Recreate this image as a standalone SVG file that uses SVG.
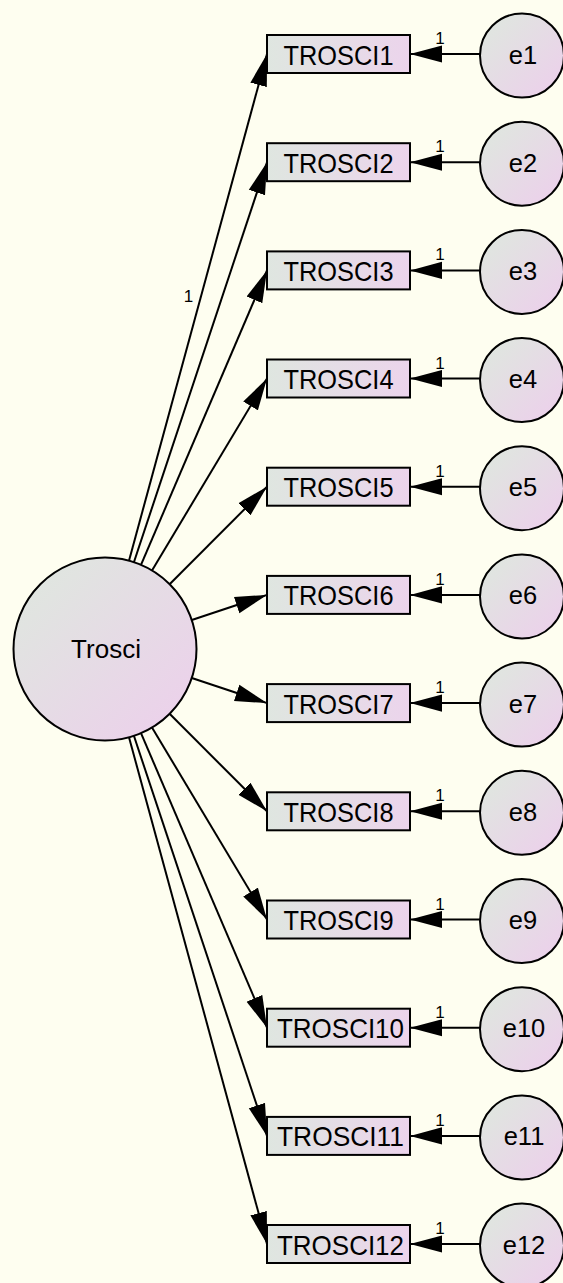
<svg xmlns="http://www.w3.org/2000/svg" width="563" height="1283" viewBox="0 0 563 1283">
<defs>
<linearGradient id="gBox" x1="0" y1="0" x2="1" y2="0">
<stop offset="0" stop-color="#dfe6e0"/>
<stop offset="1" stop-color="#ecd4ec"/>
</linearGradient>
<linearGradient id="gCirc" x1="0.15" y1="0.15" x2="0.85" y2="0.85">
<stop offset="0" stop-color="#e0e5e0"/>
<stop offset="1" stop-color="#ebd2ea"/>
</linearGradient>
<marker id="arr" markerUnits="userSpaceOnUse" markerWidth="32" markerHeight="18" viewBox="0 0 30 16" refX="30" refY="8" orient="auto">
<path d="M0,0 L30,8 L0,16 Z" fill="#000"/>
</marker>
<style>
.bg{fill:#fefef0}
.box{fill:url(#gBox);stroke:#000;stroke-width:2}
.circ{fill:url(#gCirc);stroke:#000;stroke-width:2}
.lbl{font-family:"Liberation Sans",Arial,sans-serif;fill:#000;text-anchor:middle}
.bt{font-size:28px}
.ct{font-size:25.5px}
.one{font-size:17px}
.path{stroke:#000;stroke-width:2;fill:none;marker-end:url(#arr)}
</style>
</defs>
<rect class="bg" x="0" y="0" width="563" height="1283"/>
<g id="connectors">
<line class="path" x1="129.0" y1="560.7" x2="267" y2="54"/>
<line class="path" x1="133.9" y1="562.2" x2="267" y2="162.2"/>
<line class="path" x1="141.0" y1="564.9" x2="267" y2="270.4"/>
<line class="path" x1="152.0" y1="570.5" x2="267" y2="378.5"/>
<line class="path" x1="169.6" y1="584.2" x2="267" y2="486.7"/>
<line class="path" x1="191.8" y1="620.0" x2="267" y2="594.9"/>
<line class="path" x1="191.8" y1="678.0" x2="267" y2="703.1"/>
<line class="path" x1="169.6" y1="713.8" x2="267" y2="811.3"/>
<line class="path" x1="152.0" y1="727.5" x2="267" y2="919.5"/>
<line class="path" x1="141.0" y1="733.1" x2="267" y2="1027.7"/>
<line class="path" x1="133.9" y1="735.8" x2="267" y2="1135.9"/>
<line class="path" x1="129.0" y1="737.3" x2="267" y2="1244"/>
<text class="lbl one" x="188.5" y="302">1</text>
<line class="path" x1="480" y1="54" x2="410" y2="54"/>
<line class="path" x1="480" y1="162.2" x2="410" y2="162.2"/>
<line class="path" x1="480" y1="270.4" x2="410" y2="270.4"/>
<line class="path" x1="480" y1="378.5" x2="410" y2="378.5"/>
<line class="path" x1="480" y1="486.7" x2="410" y2="486.7"/>
<line class="path" x1="480" y1="594.9" x2="410" y2="594.9"/>
<line class="path" x1="480" y1="703.1" x2="410" y2="703.1"/>
<line class="path" x1="480" y1="811.3" x2="410" y2="811.3"/>
<line class="path" x1="480" y1="919.5" x2="410" y2="919.5"/>
<line class="path" x1="480" y1="1027.7" x2="410" y2="1027.7"/>
<line class="path" x1="480" y1="1135.9" x2="410" y2="1135.9"/>
<line class="path" x1="480" y1="1244" x2="410" y2="1244"/>
<text class="lbl one" x="440" y="44">1</text>
<text class="lbl one" x="440" y="152.2">1</text>
<text class="lbl one" x="440" y="260.4">1</text>
<text class="lbl one" x="440" y="368.5">1</text>
<text class="lbl one" x="440" y="476.7">1</text>
<text class="lbl one" x="440" y="584.9">1</text>
<text class="lbl one" x="440" y="693.1">1</text>
<text class="lbl one" x="440" y="801.3">1</text>
<text class="lbl one" x="440" y="909.5">1</text>
<text class="lbl one" x="440" y="1017.7">1</text>
<text class="lbl one" x="440" y="1125.9">1</text>
<text class="lbl one" x="440" y="1234">1</text>
</g>
<g id="Trosci">
<circle class="circ" cx="105" cy="649" r="91.5"/>
<text class="lbl" style="font-size:26px" x="106" y="658">Trosci</text>
</g>
<g id="TROSCI1"><rect class="box" x="267" y="35" width="143" height="38"/><text class="lbl bt" x="338.5" y="64.5" textLength="110" lengthAdjust="spacingAndGlyphs">TROSCI1</text></g>
<g id="TROSCI2"><rect class="box" x="267" y="143.2" width="143" height="38"/><text class="lbl bt" x="338.5" y="172.7" textLength="110" lengthAdjust="spacingAndGlyphs">TROSCI2</text></g>
<g id="TROSCI3"><rect class="box" x="267" y="251.4" width="143" height="38"/><text class="lbl bt" x="338.5" y="280.9" textLength="110" lengthAdjust="spacingAndGlyphs">TROSCI3</text></g>
<g id="TROSCI4"><rect class="box" x="267" y="359.5" width="143" height="38"/><text class="lbl bt" x="338.5" y="389" textLength="110" lengthAdjust="spacingAndGlyphs">TROSCI4</text></g>
<g id="TROSCI5"><rect class="box" x="267" y="467.7" width="143" height="38"/><text class="lbl bt" x="338.5" y="497.2" textLength="110" lengthAdjust="spacingAndGlyphs">TROSCI5</text></g>
<g id="TROSCI6"><rect class="box" x="267" y="575.9" width="143" height="38"/><text class="lbl bt" x="338.5" y="605.4" textLength="110" lengthAdjust="spacingAndGlyphs">TROSCI6</text></g>
<g id="TROSCI7"><rect class="box" x="267" y="684.1" width="143" height="38"/><text class="lbl bt" x="338.5" y="713.6" textLength="110" lengthAdjust="spacingAndGlyphs">TROSCI7</text></g>
<g id="TROSCI8"><rect class="box" x="267" y="792.3" width="143" height="38"/><text class="lbl bt" x="338.5" y="821.8" textLength="110" lengthAdjust="spacingAndGlyphs">TROSCI8</text></g>
<g id="TROSCI9"><rect class="box" x="267" y="900.5" width="143" height="38"/><text class="lbl bt" x="338.5" y="930" textLength="110" lengthAdjust="spacingAndGlyphs">TROSCI9</text></g>
<g id="TROSCI10"><rect class="box" x="267" y="1008.7" width="143" height="38"/><text class="lbl bt" x="340.5" y="1038.2" textLength="127" lengthAdjust="spacingAndGlyphs">TROSCI10</text></g>
<g id="TROSCI11"><rect class="box" x="267" y="1116.9" width="143" height="38"/><text class="lbl bt" x="340.5" y="1146.4" textLength="127" lengthAdjust="spacingAndGlyphs">TROSCI11</text></g>
<g id="TROSCI12"><rect class="box" x="267" y="1225" width="143" height="38"/><text class="lbl bt" x="340.5" y="1254.5" textLength="127" lengthAdjust="spacingAndGlyphs">TROSCI12</text></g>
<g id="e1"><circle class="circ" cx="522" cy="55.5" r="42"/><text class="lbl ct" x="523" y="63.5">e1</text></g>
<g id="e2"><circle class="circ" cx="522" cy="163.7" r="42"/><text class="lbl ct" x="523" y="171.7">e2</text></g>
<g id="e3"><circle class="circ" cx="522" cy="271.9" r="42"/><text class="lbl ct" x="523" y="279.9">e3</text></g>
<g id="e4"><circle class="circ" cx="522" cy="380" r="42"/><text class="lbl ct" x="523" y="388">e4</text></g>
<g id="e5"><circle class="circ" cx="522" cy="488.2" r="42"/><text class="lbl ct" x="523" y="496.2">e5</text></g>
<g id="e6"><circle class="circ" cx="522" cy="596.4" r="42"/><text class="lbl ct" x="523" y="604.4">e6</text></g>
<g id="e7"><circle class="circ" cx="522" cy="704.6" r="42"/><text class="lbl ct" x="523" y="712.6">e7</text></g>
<g id="e8"><circle class="circ" cx="522" cy="812.8" r="42"/><text class="lbl ct" x="523" y="820.8">e8</text></g>
<g id="e9"><circle class="circ" cx="522" cy="921" r="42"/><text class="lbl ct" x="523" y="929">e9</text></g>
<g id="e10"><circle class="circ" cx="522" cy="1029.2" r="42"/><text class="lbl ct" x="524" y="1037.2">e10</text></g>
<g id="e11"><circle class="circ" cx="522" cy="1137.4" r="42"/><text class="lbl ct" x="524" y="1145.4">e11</text></g>
<g id="e12"><circle class="circ" cx="522" cy="1245.5" r="42"/><text class="lbl ct" x="524" y="1253.5">e12</text></g>
</svg>
